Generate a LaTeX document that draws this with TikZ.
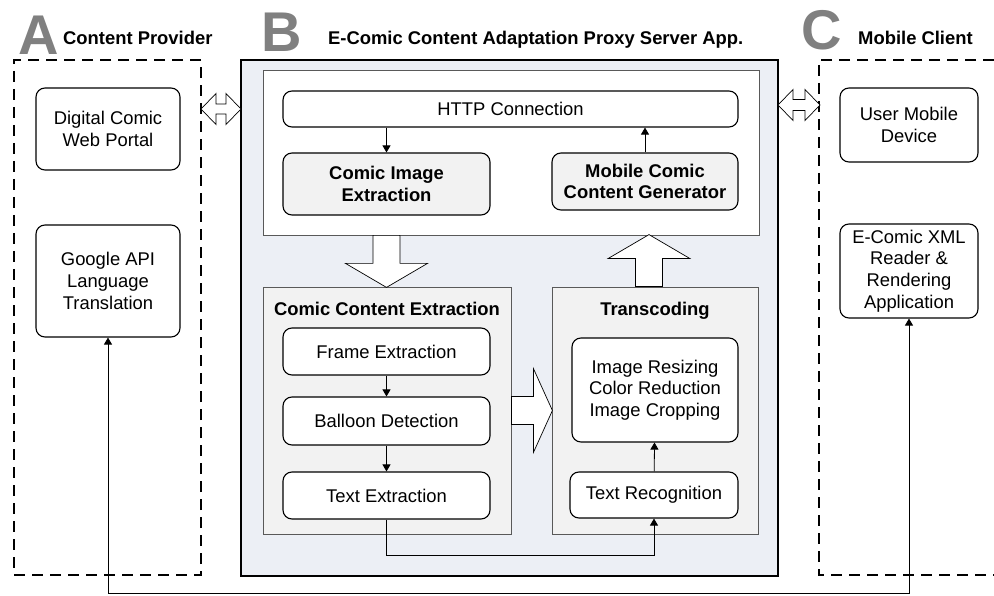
\documentclass[tikz,border=0pt]{standalone}
\usepackage{fontspec}
\setmainfont{Liberation Sans}
\usepackage{tikz}
\usetikzlibrary{positioning,calc,arrows.meta}
\definecolor{serverbg}{RGB}{236,239,245}
\definecolor{groupbg}{RGB}{242,242,242}
\definecolor{lettergray}{RGB}{128,128,128}

\begin{document}
\begin{tikzpicture}[
      x=1pt, y=-1pt, >={Triangle[length=7pt,width=8pt]},
      font=\fontsize{18.4}{21.7}\selectfont,
      every node/.style={inner sep=0pt, align=center},
      task/.style={draw, line width=1.1pt, rounded corners=9pt, fill=white},
      keytask/.style={task, fill=groupbg, font=\fontsize{18.4}{21.7}\selectfont\bfseries},
      group/.style={draw=black!65, line width=0.8pt, fill=groupbg},
      party/.style={draw, line width=1.2pt, dash pattern=on 11pt off 7pt},
      bigletter/.style={anchor=base west, text=lettergray, font=\fontsize{56}{56}\selectfont\bfseries},
      heading/.style={anchor=base west, font=\fontsize{18.4}{21.7}\selectfont\bfseries},
      blockarrow/.style={draw, line width=0.7pt, fill=white, line join=miter},
      link/.style={draw, line width=0.8pt, ->}
      ]

      \path[use as bounding box] (0,0) rectangle (994,596);

      % A, B, C headings
      \path node[bigletter] (letterA) at (18,55) {A};
      \path node[heading] (provider) at (63,45) {Content Provider};
      \path node[bigletter] (letterB) at (261,52) {B};
      \path node[heading] (proxy) at (328,45) {E-Comic Content Adaptation Proxy Server App.};
      \path node[bigletter] (letterC) at (801,50) {C};
      \path node[heading] (mobile) at (858,45) {Mobile Client};

      \path node[party, minimum width=187, minimum height=515] (cp) at (107.5,317.5) {};
      \path[party] (994,60) -- (819,60) -- (819,575) -- (994,575);
      \path node[draw, line width=1.5pt, fill=serverbg, minimum width=537, minimum height=516] (server) at (509.5,318) {};

      \path node[task, minimum width=144, minimum height=82] (portal) at (108,129) {Digital Comic\\Web Portal};
      \path node[task, minimum width=144, minimum height=112] (google) at (108,281) {Google API\\Language\\Translation};
      \path node[task, minimum width=138, minimum height=74] (userdev) at (909,125) {User Mobile\\Device};
      \path node[task, minimum width=138, minimum height=94] (reader) at (909,271) {E-Comic XML\\Reader \&\\Rendering\\Application};

      \path node[group, fill=white, minimum width=496, minimum height=165] (httpgroup) at (511,152.5) {};
      \path node[group, minimum width=248, minimum height=247] (extgroup) at (387,410.5) {};
      \path node[group, minimum width=206, minimum height=247] (transgroup) at (655,410.5) {};
      \path node[heading, anchor=base] (exttitle) at ($(extgroup.north)+(0,29)$) {Comic Content Extraction};
      \path node[heading, anchor=base] (transtitle) at ($(transgroup.north)+(0,29)$) {Transcoding};

      \path node[task, minimum width=455, minimum height=36] (http) at (510.5,109) {HTTP Connection};
      \path node[keytask, minimum width=207, minimum height=62] (cie) at (386.5,184) {Comic Image\\Extraction};
      \path node[keytask, minimum width=186, minimum height=57] (mccg) at (645,181.5) {Mobile Comic\\Content Generator};
      \path node[task, minimum width=207, minimum height=47] (frame) at (386.5,351.5) {Frame Extraction};
      \path node[task, minimum width=207, minimum height=48] (balloon) at (386.5,421) {Balloon Detection};
      \path node[task, minimum width=207, minimum height=47] (textext) at (386.5,495.5) {Text Extraction};
      \path node[task, minimum width=166, minimum height=104] (imgproc) at (655,390) {Image Resizing\\Color Reduction\\Image Cropping};
      \path node[task, minimum width=168, minimum height=46] (textrec) at (654,495) {Text Recognition};

      \path[link] (http.south -| cie) -- (cie);
      \path[link] (mccg) -- (http.south -| mccg);
      \path[link] (frame) -- (balloon);
      \path[link] (balloon) -- (textext);
      \path[link] (textrec) -- (imgproc);
      \path[link] (textext.south) -- ++(0,36) -| (textrec.south);

      \coordinate (bus) at (0,593);
      \path[draw, line width=0.8pt, <->] (google.south) -- (google.south |- bus) -- (reader.south |- bus) -- (reader.south);

      % block arrows
      \path[blockarrow, shift={(201,109)}] (0,0) -- (15,-15.5) -- (15,-5) -- (25,-5) -- (25,-15.5) -- (40,0)
        -- (25,15.5) -- (25,5) -- (15,5) -- (15,15.5) -- cycle;
      \path[blockarrow, shift={(778,105)}] (0,0) -- (15,-15.5) -- (15,-5.5) -- (27,-5.5) -- (27,-15.5) -- (42,0)
        -- (27,15.5) -- (27,5.5) -- (15,5.5) -- (15,15.5) -- cycle;
      \path[blockarrow, shift={(cie.south |- httpgroup.south)}] (-13.5,0) -- (13.5,0) -- (13.5,28) -- (41,28)
        -- (0,52) -- (-41,28) -- (-13.5,28) -- cycle;
      \path[blockarrow, shift={($(transgroup.north)+(-6,0)$)}] (-13.5,0) -- (-13.5,-28) -- (-41,-28)
        -- (0,-52) -- (41,-28) -- (13.5,-28) -- (13.5,0) -- cycle;
      \path[blockarrow, shift={(extgroup.east)}] (0,-14) -- (22,-14) -- (22,-42) -- (41,0)
        -- (22,42) -- (22,14) -- (0,14) -- cycle;
\end{tikzpicture}
\end{document}
